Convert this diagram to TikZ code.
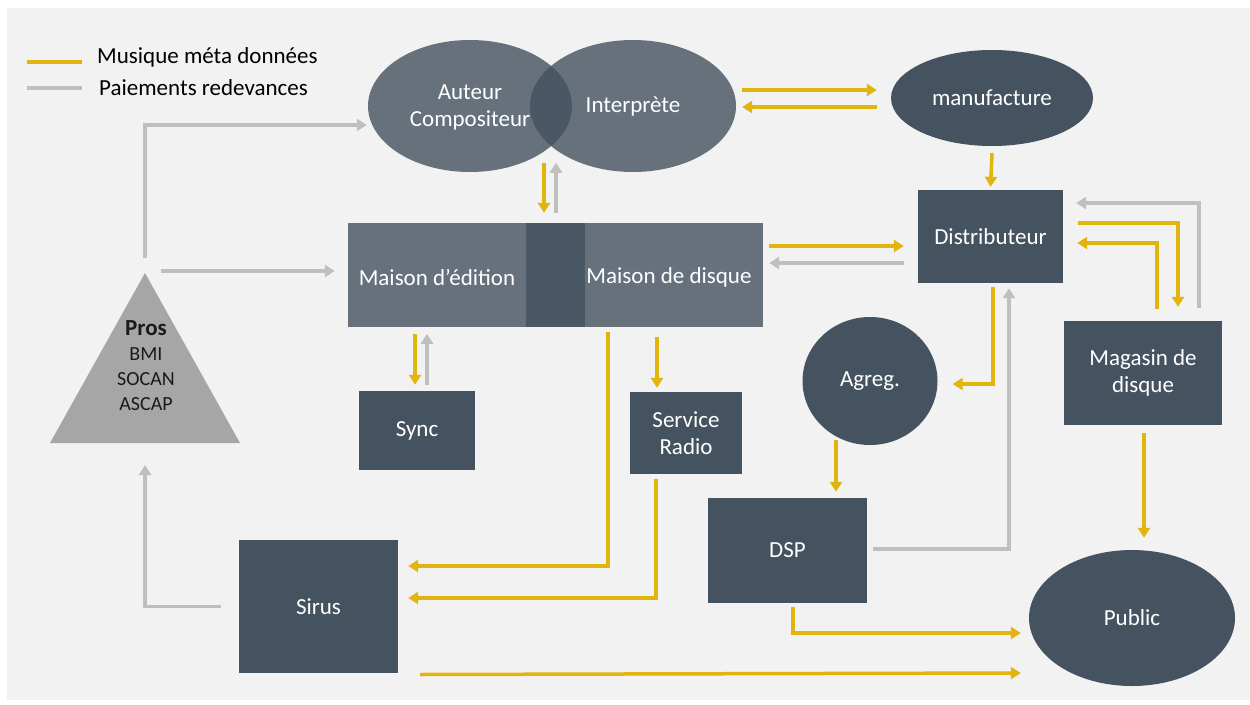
\documentclass[tikz,border=0pt]{standalone}
\usepackage{fontspec}
\setmainfont{Carlito}
\usetikzlibrary{arrows.meta,shapes.geometric}
\definecolor{bgc}{HTML}{F2F2F2}
\definecolor{darkbox}{HTML}{44535F}
\definecolor{lightbox}{HTML}{66717C}
\definecolor{overlapc}{HTML}{4A5865}
\definecolor{goldc}{HTML}{E1B40F}
\definecolor{grayc}{HTML}{BFBFBF}
\definecolor{prosc}{HTML}{A6A6A6}
\definecolor{prostext}{HTML}{1A1A1A}
\newcommand{\lab}{\fontsize{23}{27}\selectfont}
\newcommand{\prosfont}{\fontsize{20}{25}\selectfont}
\newcommand{\prostitle}{\fontsize{23}{25}\selectfont\bfseries}
\tikzset{
  box/.style={rectangle, fill=darkbox, text=white, inner sep=0pt, font=\lab, align=center},
  ell/.style={ellipse, fill=darkbox, text=white, inner sep=0pt, font=\lab, align=center},
  lbl/.style={text=white, inner sep=0pt, font=\lab, align=center},
  tipA/.style={-{Triangle[length=10pt,width=12pt]}},
  gflow/.style={draw=goldc, line width=3.5pt, tipA},
  pflow/.style={draw=grayc, line width=3.5pt, tipA},
  legline/.style={line width=4pt},
}
\begin{document}
\begin{tikzpicture}[x=1pt,y=-1pt]
\useasboundingbox (0,0) rectangle (1250,704);
\fill[bgc] (7,8) rectangle (1250,700);

% legend
\draw[goldc,legline] (27,62) -- (82,62);
\draw[grayc,legline] (27,88) -- (82,88);
\node[anchor=west, inner sep=0pt, font=\lab, text=black] (leg1) at (97,57) {Musique méta données};
\node[anchor=west, inner sep=0pt, font=\lab, text=black] (leg2) at (99,88) {Paiements redevances};

% ellipses top
\node[ell, fill=lightbox, minimum width=204pt, minimum height=132pt] (auteur) at (470,106) {};
\node[ell, fill=lightbox, minimum width=206pt, minimum height=132pt] (interp) at (633,106) {};
\begin{scope}
  \clip (470,106) ellipse [x radius=102pt, y radius=66pt];
  \fill[overlapc] (633,106) ellipse [x radius=103pt, y radius=66pt];
\end{scope}
\node[lbl] (auteurtxt) at ([yshift=-1pt]auteur.center) {Auteur\\Compositeur};
\node[lbl] (interptxt) at (interp.center) {Interprète};

\node[ell, minimum width=202pt, minimum height=96pt] (manuf) at (992,98) {manufacture};
\node[box, minimum width=145pt, minimum height=93pt] (distrib) at (990.5,236.5) {Distributeur};

% maison
\node[rectangle, fill=lightbox, inner sep=0pt, minimum width=415pt, minimum height=104pt] (maison) at (555.5,275) {};
\fill[overlapc] (526,223) rectangle (585,327);
\node[lbl] (edition) at (437,277) {Maison d’édition};
\node[lbl] (disque) at (669,277) {Maison de disque};

\node[box, minimum width=116pt, minimum height=79pt] (sync) at (417,430.5) {Sync};
\node[box, minimum width=112pt, minimum height=82pt] (radio) at (686,433) {Service\\Radio};
\node[ell, minimum width=135pt, minimum height=128pt] (agreg) at (870,381) {Agreg.};
\node[box, minimum width=158pt, minimum height=104pt] (magasin) at (1143,373) {Magasin de\\disque};
\node[box, minimum width=159pt, minimum height=105pt] (dsp) at (787.5,550.5) {DSP};
\node[ell, minimum width=206pt, minimum height=136pt] (public) at (1132,618) {Public};
\node[box, minimum width=159pt, minimum height=133pt] (sirus) at (318.5,606.5) {Sirus};

% pros triangle
\coordinate (prosapex) at (145,273);
\coordinate (prosbase) at (145,443);
\fill[prosc] (prosapex) -- (240,443) -- (50,443) -- cycle;
\node[inner sep=0pt, font=\prosfont, text=prostext, align=center] (pros) at (146,366) {{\prostitle Pros}\\BMI\\SOCAN\\ASCAP};

% connectors
\draw[pflow] ([yshift=15pt]prosapex) |- ([xshift=-1pt,yshift=-19pt]auteur.west);
\draw[pflow] ([xshift=16pt,yshift=2pt]prosapex) -- ([xshift=-13pt,yshift=4pt]maison.west);

\draw[gflow] ([xshift=-11.5pt,yshift=60pt]maison.north) -- ([xshift=-11.5pt,yshift=10pt]maison.north);
\draw[pflow] ([xshift=0.5pt,yshift=10pt]maison.north) -- ([xshift=0.5pt,yshift=60pt]maison.north);

\draw[gflow] ([xshift=6pt,yshift=16pt]interp.east) -- ([xshift=-14pt,yshift=8pt]manuf.west);
\draw[gflow] ([xshift=-14pt,yshift=-9pt]manuf.west) -- ([xshift=6pt,yshift=-1pt]interp.east);

\draw[gflow] ([yshift=-7pt]manuf.south) -- ([yshift=3pt]distrib.north);

\draw[gflow] ([xshift=6pt,yshift=29pt]maison.east) -- ([xshift=-14pt,yshift=-9.5pt]distrib.west);
\draw[pflow] ([xshift=-14pt,yshift=-26.5pt]distrib.west) -- ([xshift=6pt,yshift=12pt]maison.east);

\draw[pflow] ([xshift=56pt,yshift=13pt]magasin.north) |- ([xshift=13pt,yshift=33.5pt]distrib.east);
\draw[gflow] ([xshift=15pt,yshift=13.5pt]distrib.east) -| ([xshift=35pt,yshift=14pt]magasin.north);
\draw[gflow] ([xshift=14pt,yshift=12pt]magasin.north) |- ([xshift=14pt,yshift=-6.5pt]distrib.east);

\draw[gflow] ([xshift=2.5pt,yshift=-4pt]distrib.south) |- ([xshift=15pt,yshift=-3pt]agreg.east);
\draw[pflow] ([xshift=6pt,yshift=1.5pt]dsp.east) -| ([xshift=18.5pt,yshift=-5pt]distrib.south);

\draw[gflow] ([xshift=48.5pt,yshift=58pt]dsp.north) -- ([xshift=48.5pt,yshift=6pt]dsp.north);
\draw[gflow] ([xshift=5.5pt,yshift=-4pt]dsp.south) |- ([xshift=-8pt,yshift=-15pt]public.west);
\draw[gflow] ([xshift=22pt,yshift=-68pt]sirus.east) -- ([xshift=-8pt,yshift=-55pt]public.west);
\draw[gflow] ([xshift=1pt,yshift=-8pt]magasin.south) -- ([xshift=12pt,yshift=12pt]public.north);

\draw[gflow] ([xshift=52.5pt,yshift=-5pt]maison.south) |- ([xshift=10pt,yshift=40.5pt]sirus.east);
\draw[gflow] ([xshift=-29pt,yshift=55pt]radio.north) -- ([xshift=-29pt,yshift=4pt]radio.north);
\draw[gflow] ([xshift=-30pt,yshift=-5pt]radio.south) |- ([xshift=10pt,yshift=8.5pt]sirus.east);

\draw[gflow] ([xshift=-2pt,yshift=57pt]sync.north) -- ([xshift=-2pt,yshift=6pt]sync.north);
\draw[pflow] ([xshift=10pt,yshift=6pt]sync.north) -- ([xshift=10pt,yshift=57pt]sync.north);

\draw[pflow] ([xshift=-18pt]sirus.west) -| ([yshift=-22pt]prosbase);
\end{tikzpicture}
\end{document}
